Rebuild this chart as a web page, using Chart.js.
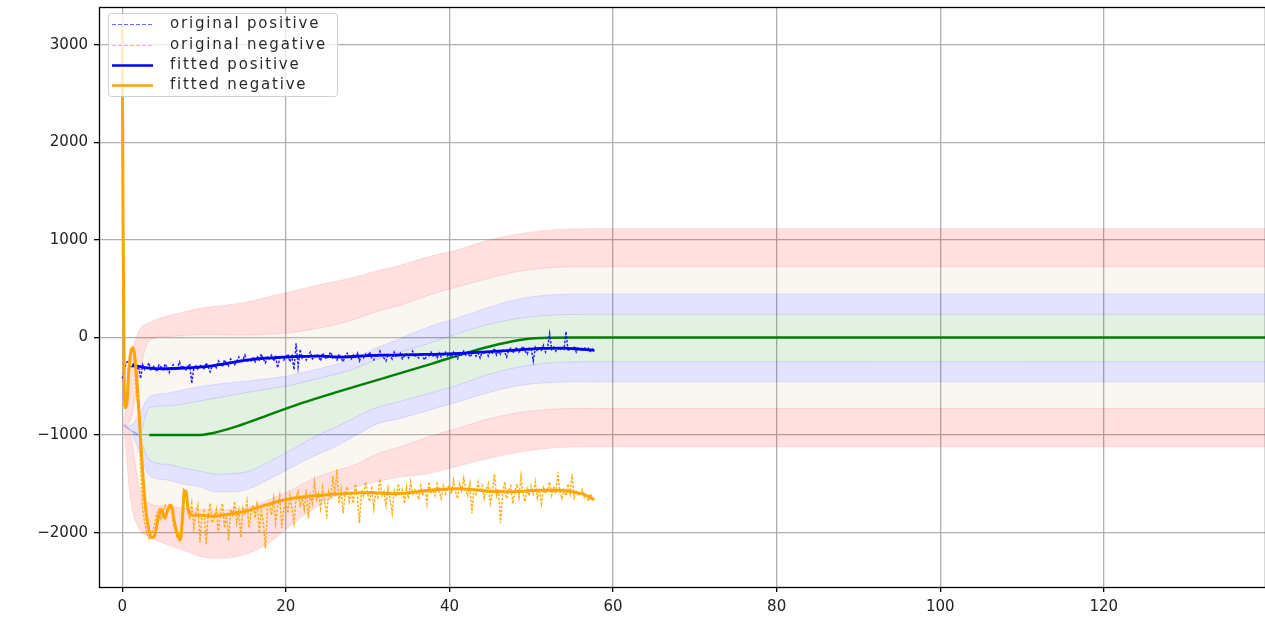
<!DOCTYPE html>
<html><head><meta charset="utf-8">
<script src="https://cdn.jsdelivr.net/npm/chart.js@4.4.1/dist/chart.umd.min.js"></script>
<style>html,body{margin:0;padding:0;background:#fff;overflow:hidden}#wrap{width:1265px;height:619px;position:relative}</style>
</head><body><div id="wrap"><canvas id="c" width="1265" height="619"></canvas></div>
<script>
// ---------- data ----------
const xTicks = [0, 20, 40, 60, 80, 100, 120];
const yTicks = [-2000, -1000, 0, 1000, 2000, 3000];
const legendLabels = ['original positive', 'original negative', 'fitted positive', 'fitted negative'];

// band boundaries (shared x grid)
const bandX      = [0.2, 1, 2, 3.3, 5.5, 7.5, 9.5, 11.5, 13.5, 15.5, 18, 20.5, 23, 25.5, 28, 31, 34, 37.5, 41, 44.5, 48, 51.5, 55, 60, 140];
const redTop     = [-900, -250, 60, 150, 220, 260, 300, 320, 340, 367, 420, 470, 520, 565, 610, 680, 740, 829, 900, 990, 1055, 1095, 1112, 1115, 1115];
const redBeigeU  = [-900, -850, -400, -30, 10, 20, 30, 30, 25, 25, 35, 50, 80, 120, 175, 265, 330, 436, 520, 600, 670, 710, 724, 726, 726];
const beigeBlueU = [-900, -900, -800, -610, -570, -535, -504, -480, -460, -445, -420, -390, -340, -290, -225, -110, -10, 111, 200, 300, 385, 430, 444, 446, 446];
const blueGreenU = [-900, -950, -1000, -720, -700, -680, -650, -620, -590, -560, -525, -490, -440, -390, -330, -230, -150, -60, 40, 130, 190, 225, 236, 238, 238];
const greenBlueL = [-900, -950, -1000, -1256, -1300, -1338, -1370, -1400, -1395, -1370, -1270, -1160, -1040, -940, -840, -720, -655, -572, -490, -385, -310, -265, -250, -248, -248];
const blueBeigeL = [-900, -950, -1150, -1410, -1460, -1500, -1530, -1580, -1580, -1550, -1450, -1340, -1230, -1140, -1030, -890, -829, -744, -660, -570, -500, -465, -454, -453, -453];
const beigeRedL  = [-900, -1000, -1500, -1700, -1730, -1750, -1760, -1770, -1760, -1740, -1660, -1570, -1460, -1380, -1320, -1200, -1120, -1017, -930, -840, -775, -740, -727, -726, -726];
const redBottom  = [-900, -1650, -1950, -2043, -2120, -2180, -2240, -2262, -2250, -2210, -2100, -1930, -1780, -1650, -1550, -1480, -1430, -1393, -1320, -1245, -1180, -1140, -1122, -1120, -1120];

// green centre line
const greenX = [3.3, 9, 11, 14, 18, 22, 26, 30, 34, 38, 42, 46, 49, 52, 55, 140];
const greenY = [-1000, -1000, -980, -910, -790, -670, -565, -465, -365, -265, -160, -70, -20, -2, 0, 0];

// original series, sampled every 0.25 from x = 0
const sampleStep = 0.25;
const origPos = [
 -420,-330,-260,-240,-300,-290,-250,-330,
 -300,-420,-280,-330,-310,-260,-340,-290,
 -310,-350,-280,-300,-330,-270,-310,-360,
 -300,-280,-330,-310,-250,-320,-290,-340,
 -300,-270,-470,-310,-290,-330,-280,-300,
 -320,-260,-300,-350,-290,-280,-310,-240,
 -270,-300,-230,-260,-290,-220,-250,-280,
 -240,-200,-260,-230,-180,-250,-220,-240,
 -210,-250,-190,-230,-170,-220,-260,-200,
 -220,-180,-240,-200,-310,-210,-190,-230,
 -200,-170,-250,-190,-330,-60,-300,-120,
 -210,-180,-230,-190,-150,-220,-200,-170,
 -190,-240,-160,-200,-220,-180,-150,-210,
 -190,-230,-170,-210,-250,-190,-160,-200,
 -220,-180,-200,-160,-240,-190,-210,-170,
 -190,-150,-210,-230,-170,-200,-140,-190,
 -210,-240,-170,-190,-220,-150,-200,-180,
 -160,-220,-190,-170,-210,-180,-140,-200,
 -180,-210,-160,-200,-230,-170,-190,-150,
 -190,-170,-210,-160,-200,-180,-150,-190,
 -170,-200,-150,-190,-220,-160,-180,-140,
 -180,-150,-200,-170,-130,-190,-160,-210,
 -150,-170,-130,-190,-140,-160,-110,-180,
 -140,-170,-120,-150,-200,-130,-110,-160,
 -130,-100,-150,-120,-90,-140,-170,-110,
 -120,-240,-100,-140,-110,-130,-80,-150,
 -100,40,-120,-90,-140,-110,-130,-100,
 -120,60,-140,-100,-130,-90,-150,-110,
 -120,-140,-100,-130,-110,-150,-120,-140
];
const origNeg = [
 3200,-650,-720,-300,-120,-100,-250,-600,
 -750,-1300,-1750,-1900,-2000,-2060,-2000,-1980,
 -1900,-1800,-1760,-1860,-1800,-1720,-1760,-1700,
 -1750,-1900,-2000,-2050,-2080,-1950,-1560,-1600,
 -1780,-1850,-1700,-1950,-1800,-1720,-2100,-1830,
 -1780,-2120,-1820,-1700,-1900,-1850,-1760,-2000,
 -1800,-1700,-1950,-1830,-2080,-1760,-1820,-1680,
 -1900,-1780,-2050,-1750,-1820,-1680,-1950,-1790,
 -1720,-1850,-1680,-2000,-1780,-1900,-2160,-1750,
 -1700,-1820,-1650,-1900,-1730,-1620,-1950,-1760,
 -1680,-1800,-1620,-1750,-1900,-1650,-1580,-1720,
 -1640,-1760,-1560,-1850,-1620,-1700,-1480,-1660,
 -1600,-1750,-1540,-1680,-1820,-1580,-1650,-1420,
 -1620,-1350,-1700,-1560,-1800,-1600,-1530,-1680,
 -1580,-1700,-1500,-1650,-1900,-1560,-1620,-1480,
 -1600,-1680,-1520,-1750,-1580,-1640,-1450,-1620,
 -1580,-1720,-1540,-1660,-1800,-1570,-1630,-1500,
 -1620,-1560,-1700,-1530,-1650,-1480,-1600,-1560,
 -1590,-1660,-1520,-1620,-1550,-1700,-1480,-1600,
 -1560,-1620,-1500,-1580,-1650,-1520,-1600,-1540,
 -1520,-1600,-1460,-1580,-1650,-1500,-1570,-1440,
 -1560,-1620,-1500,-1800,-1540,-1600,-1480,-1580,
 -1520,-1650,-1560,-1500,-1700,-1580,-1400,-1620,
 -1550,-1900,-1600,-1480,-1650,-1560,-1520,-1700,
 -1580,-1500,-1640,-1420,-1600,-1680,-1550,-1620,
 -1520,-1600,-1480,-1650,-1560,-1700,-1540,-1600,
 -1560,-1480,-1620,-1540,-1600,-1380,-1580,-1650,
 -1560,-1620,-1500,-1600,-1400,-1640,-1580,-1620,
 -1600,-1560,-1640,-1620,-1680,-1600,-1660,-1650
];

// fitted series
const fitPosX = [1.2, 2, 3, 5, 7, 9, 11, 13, 15, 17, 19, 21, 24, 27, 30, 33, 36, 39, 42, 45, 48, 51, 54, 56, 57.7];
const fitPosY = [-290, -295, -310, -320, -315, -305, -290, -262, -235, -215, -205, -195, -190, -200, -185, -180, -175, -170, -160, -145, -130, -112, -108, -120, -130];
const fitNegX = [0, 0.1, 0.25, 0.4, 0.6, 0.8, 1.1, 1.35, 1.6, 2.0, 2.4, 2.8, 3.2, 3.6, 4.0, 4.4, 4.8, 5.2, 5.6, 6.0, 6.4, 6.8, 7.1, 7.4, 7.6, 7.8, 8.1, 8.6, 9.5, 11, 13, 15, 17, 19, 21, 23, 25, 27, 29, 31, 33, 35, 37, 39, 41, 43, 45, 47, 49, 51, 53, 55, 56.5, 57.7];
const fitNegY = [3150, 1200, -500, -720, -650, -350, -130, -110, -250, -700, -1250, -1700, -1950, -2050, -2020, -1850, -1760, -1850, -1760, -1720, -1900, -2030, -2070, -1800, -1570, -1580, -1780, -1820, -1820, -1830, -1810, -1780, -1730, -1680, -1645, -1625, -1610, -1600, -1590, -1590, -1600, -1590, -1570, -1555, -1550, -1560, -1575, -1580, -1575, -1565, -1565, -1580, -1610, -1660];

// ---------- helpers ----------
const pts = (xs, ys) => xs.map((x, i) => ({x: x, y: ys[i]}));
const sampled = ys => ys.map((y, i) => ({x: i * sampleStep, y: y}));

const PINK = 'rgba(255,0,0,0.12)';
const BEIGE = 'rgba(210,180,140,0.12)';
const BLUEF = 'rgba(0,0,255,0.11)';
const GREENF = 'rgba(0,128,0,0.11)';

function band(data, fill, fillColor, edge) {
  return { type: 'line', data: data, order: 10, borderColor: edge, borderWidth: 1,
    pointRadius: 0, fill: fill, backgroundColor: fillColor, cubicInterpolationMode: 'monotone' };
}

const datasets = [
  band(pts(bandX, redTop), false, PINK, 'rgba(255,0,0,0.10)'),
  band(pts(bandX, redBeigeU), '-1', PINK, 'rgba(255,0,0,0.12)'),
  band(pts(bandX, beigeBlueU), '-1', BEIGE, 'rgba(0,0,255,0.10)'),
  band(pts(bandX, blueGreenU), '-1', BLUEF, 'rgba(0,0,255,0.12)'),
  band(pts(bandX, greenBlueL), '-1', GREENF, 'rgba(0,0,255,0.12)'),
  band(pts(bandX, blueBeigeL), '-1', BLUEF, 'rgba(0,0,255,0.10)'),
  band(pts(bandX, beigeRedL), '-1', BEIGE, 'rgba(255,0,0,0.12)'),
  band(pts(bandX, redBottom), '-1', PINK, 'rgba(255,0,0,0.10)'),
  { type: 'line', data: pts(greenX, greenY), order: 5, borderColor: '#008000', borderWidth: 2.5,
    pointRadius: 0, fill: false, cubicInterpolationMode: 'monotone' },
  { type: 'line', label: legendLabels[0], data: sampled(origPos), order: 4, borderColor: 'rgba(0,0,255,0.85)',
    borderWidth: 1.5, borderDash: [2.5, 1.5], pointRadius: 0, fill: false, tension: 0 },
  { type: 'line', label: legendLabels[1], data: sampled(origNeg), order: 3, borderColor: 'rgba(255,165,0,0.9)',
    borderWidth: 1.5, borderDash: [2.5, 1.5], pointRadius: 0, fill: false, tension: 0 },
  { type: 'line', label: legendLabels[2], data: pts(fitPosX, fitPosY), order: 2, borderColor: '#0000ff',
    borderWidth: 2.8, pointRadius: 0, fill: false, cubicInterpolationMode: 'monotone' },
  { type: 'line', label: legendLabels[3], data: pts(fitNegX, fitNegY), order: 1, borderColor: '#ffa500',
    borderWidth: 3, pointRadius: 0, fill: false, cubicInterpolationMode: 'monotone' }
];

const FONT = {family: 'DejaVu Sans', size: 15};

const framePlugin = {
  id: 'frame',
  afterDatasetsDraw(chart) {
    const {ctx, chartArea: a} = chart;
    ctx.save();
    ctx.strokeStyle = '#000';
    ctx.lineWidth = 1.3;
    ctx.strokeRect(a.left + 0.5, a.top + 0.5, a.right - a.left, a.bottom - a.top);
    ctx.restore();
    // legend
    const x0 = 108.5, y0 = 13.5, w = 229, h = 83;
    ctx.save();
    ctx.beginPath();
    if (ctx.roundRect) ctx.roundRect(x0, y0, w, h, 3); else ctx.rect(x0, y0, w, h);
    ctx.fillStyle = 'rgba(255,255,255,0.8)';
    ctx.fill();
    ctx.strokeStyle = 'rgba(204,204,204,0.9)';
    ctx.lineWidth = 1;
    ctx.stroke();
    const styles = [
      {c: 'rgba(0,0,255,0.6)', w: 1, d: [4, 2]},
      {c: 'rgba(255,165,0,0.7)', w: 1, d: [4, 2]},
      {c: '#0000ff', w: 2.5, d: []},
      {c: '#ffa500', w: 2.5, d: []}
    ];
    const rows = [24, 45, 65, 85];
    ctx.font = '15px "DejaVu Sans"';
    ctx.textBaseline = 'middle';
    ctx.textAlign = 'left';
    try { ctx.letterSpacing = '1.8px'; } catch (e) {}
    legendLabels.forEach((lab, i) => {
      const s = styles[i];
      ctx.beginPath();
      ctx.setLineDash(s.d);
      ctx.strokeStyle = s.c;
      ctx.lineWidth = s.w;
      ctx.moveTo(112, rows[i] + 0.5);
      ctx.lineTo(153, rows[i] + 0.5);
      ctx.stroke();
      ctx.setLineDash([]);
      ctx.fillStyle = '#2a2a2a';
      ctx.fillText(lab, 170, rows[i]);
    });
    ctx.restore();
  }
};

new Chart(document.getElementById('c'), {
  type: 'line',
  data: { datasets: datasets },
  options: {
    responsive: false,
    animation: false,
    devicePixelRatio: 1,
    layout: { padding: { top: 7, right: 0, left: 0, bottom: 0 } },
    plugins: { legend: { display: false }, tooltip: { enabled: false },
      filler: { propagate: false } },
    scales: {
      x: {
        type: 'linear', min: -2.84, max: 139.7,
        afterBuildTicks: s => { s.ticks = xTicks.map(v => ({value: v})); },
        afterFit: s => { s.height = 32; s.paddingLeft = 0; s.paddingRight = 0; },
        grid: { color: '#b0b0b0', lineWidth: 1.3, tickColor: '#000', tickLength: 5, drawTicks: true },
        border: { display: false },
        ticks: { font: FONT, color: '#222', padding: 6, maxRotation: 0, autoSkip: false }
      },
      y: {
        type: 'linear', min: -2556, max: 3386,
        afterBuildTicks: s => { s.ticks = yTicks.map(v => ({value: v})); },
        afterFit: s => { s.width = 99; s.paddingTop = 0; s.paddingBottom = 0; },
        grid: { color: '#b0b0b0', lineWidth: 1.3, tickColor: '#000', tickLength: 5, drawTicks: true },
        border: { display: false },
        ticks: { font: FONT, color: '#222', padding: 6,
          callback: v => (v < 0 ? '\u2212' + Math.abs(v) : String(v)) }
      }
    }
  },
  plugins: [framePlugin]
});
</script></body></html>
